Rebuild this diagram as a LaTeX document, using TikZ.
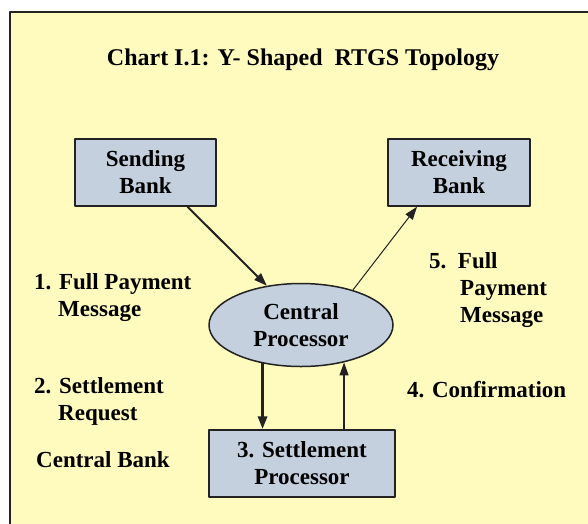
\documentclass[tikz,border=0pt]{standalone}
\usepackage{fontspec}
\setmainfont{LiberationSerif}[Extension=.ttf,UprightFont=*-Regular,BoldFont=*-Bold]
\usetikzlibrary{arrows.meta,shapes.geometric}

\definecolor{paper}{RGB}{255,251,191}
\definecolor{boxblue}{RGB}{196,208,221}
\definecolor{ink}{RGB}{34,34,34}

\tikzset{
  bank/.style={draw=ink,line width=1.5pt,fill=boxblue,minimum width=141pt,
    minimum height=67pt,align=center,inner sep=0pt},
  proc/.style={ellipse,draw=ink,line width=1.5pt,fill=boxblue,minimum width=184pt,
    minimum height=83pt,align=center,inner sep=0pt},
  note/.style={align=left,anchor=west,inner sep=0pt},
}

\begin{document}
\begin{tikzpicture}[x=1pt,y=-1pt,line cap=round,line join=round,
    >={Triangle[length=13pt,width=9pt]},font=\fontsize{23}{27}\selectfont\bfseries]
      \useasboundingbox (0,0) rectangle (588,523);
      \clip (0,0) rectangle (588,523);

      % Paper and its frame
      \fill[white] (0,0) rectangle (588,523);
      \fill[paper] (10,12) rectangle (600,540);
      \draw[ink,line width=2pt] (10,540) -- (10,12) -- (600,12);

      % Title
      \node[font=\fontsize{24}{28}\selectfont\bfseries] (title) at (303,60)
        {Chart I.1: Y- Shaped\ \ RTGS Topology};

      % Banks and processors
      \node[bank] (send) at (145.5,172.5) {Sending\\Bank};
      \node[bank,minimum width=142pt] (recv) at (459,172.5) {Receiving\\Bank};
      \node[proc] (cpu) at (301,325) {Central\\Processor};
      \node[bank,minimum width=186pt] (settle) at (302,463.5) {3. Settlement\\Processor};

      % Message flow
      \draw[->,ink,line width=2pt] ([xshift=42pt]send.south) -- (cpu.131);
      \draw[->,ink,line width=1pt] (cpu.34) -- ([xshift=-42pt]recv.south);
      \draw[->,ink,line width=3pt] (cpu.225) -- (cpu.225 |- settle.north);
      \draw[->,ink,line width=1.2pt] (cpu.319 |- settle.north) -- (cpu.319);

      % Step labels
      \node[note] (msgin) at (34,298) {1. Full Payment\\\hspace*{24pt}Message};
      \node[note] (msgout) at (429,290) {5.\ \ Full\\\hspace*{31pt}Payment\\\hspace*{31pt}Message};
      \node[note] (req) at (34,401) {2. Settlement\\\hspace*{24pt}Request};
      \node[note] (cb) at (36,460) {Central Bank};
      \node[note] (conf) at (407,390) {4. Confirmation};
\end{tikzpicture}
\end{document}
